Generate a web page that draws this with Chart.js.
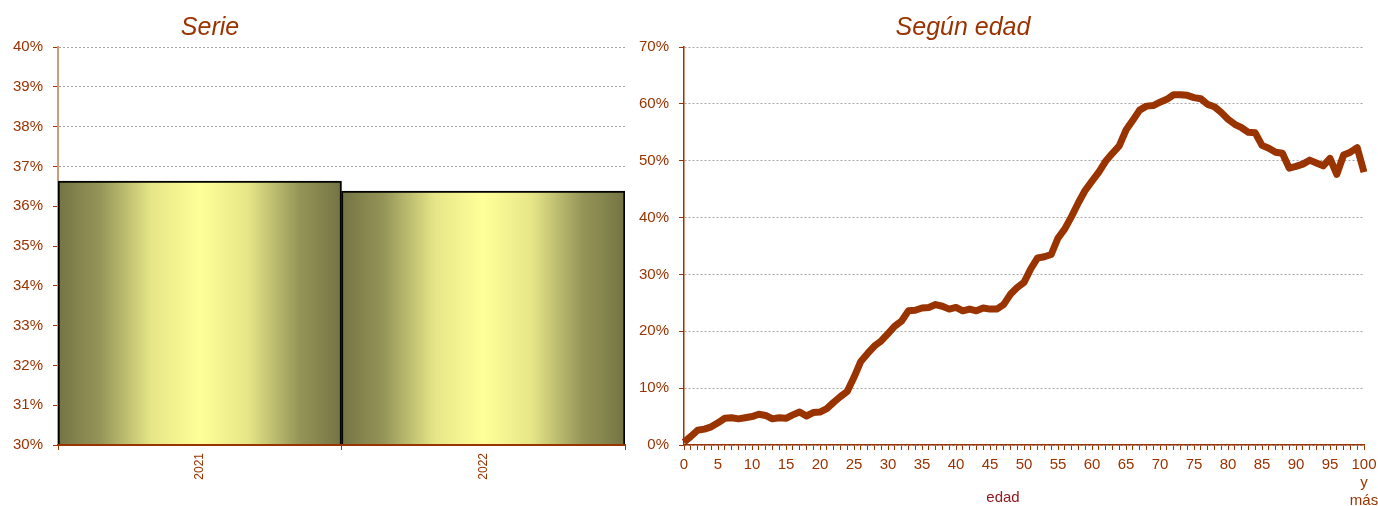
<!DOCTYPE html>
<html lang="es">
<head>
  <meta charset="UTF-8" />
  <title>Serie y según edad</title>
  <script src="https://cdn.jsdelivr.net/npm/chart.js"></script>
  <style>
    body {
      margin: 0;
      background: #fff;
      width: 1378px;
      height: 506px;
      overflow: hidden;
      position: relative;
    }
    canvas {
      position: absolute;
      top: 0;
    }
    #serieChart { left: 0; }
    #edadChart { left: 632px; }
  </style>
</head>
<body>

  <canvas id="serieChart" width="632" height="506"></canvas>
  <canvas id="edadChart" width="746" height="506"></canvas>

  <script>
    // ---- data ----
    const serieYears = ["2021", "2022"];
    const serieValues = [36.63, 36.38];
    const serieTicks = [30, 31, 32, 33, 34, 35, 36, 37, 38, 39, 40];

    const ages = [
      "0", "1", "2", "3", "4", "5", "6", "7", "8", "9",
      "10", "11", "12", "13", "14", "15", "16", "17", "18", "19",
      "20", "21", "22", "23", "24", "25", "26", "27", "28", "29",
      "30", "31", "32", "33", "34", "35", "36", "37", "38", "39",
      "40", "41", "42", "43", "44", "45", "46", "47", "48", "49",
      "50", "51", "52", "53", "54", "55", "56", "57", "58", "59",
      "60", "61", "62", "63", "64", "65", "66", "67", "68", "69",
      "70", "71", "72", "73", "74", "75", "76", "77", "78", "79",
      "80", "81", "82", "83", "84", "85", "86", "87", "88", "89",
      "90", "91", "92", "93", "94", "95", "96", "97", "98", "99",
      "100"
    ];
    const ageValues = [
      0.5, 1.5, 2.6, 2.8, 3.2, 3.9, 4.7, 4.8, 4.6, 4.8,
      5.0, 5.4, 5.2, 4.6, 4.8, 4.7, 5.3, 5.8, 5.1, 5.7,
      5.8, 6.4, 7.5, 8.5, 9.4, 11.9, 14.7, 16.1, 17.4, 18.3,
      19.6, 20.9, 21.8, 23.6, 23.7, 24.1, 24.2, 24.7, 24.4, 23.9,
      24.2, 23.6, 23.9, 23.6, 24.1, 23.9, 23.9, 24.7, 26.5, 27.7,
      28.6, 31.0, 32.9, 33.1, 33.5, 36.4, 38.0, 40.2, 42.6, 44.8,
      46.4, 48.0, 49.9, 51.3, 52.6, 55.4, 57.1, 58.9, 59.6, 59.7,
      60.3, 60.8, 61.6, 61.6, 61.5, 61.1, 60.9, 59.9, 59.5, 58.5,
      57.3, 56.4, 55.8, 55.0, 54.9, 52.7, 52.2, 51.5, 51.3, 48.7,
      49.0, 49.4, 50.1, 49.6, 49.1, 50.4, 47.6, 51.0, 51.5, 52.3,
      48.0
    ];
    const lastAgeLabel = ["100", "y", "más"];

    // ---- look ----
    const brown = "#993300";
    const fontFamily = '"Liberation Sans", Arial, sans-serif';
    Chart.defaults.font.family = fontFamily;
    Chart.defaults.color = brown;

    // draws the italic titles (and the axis caption) where Excel had them
    const textPlugin = {
      id: "freeText",
      afterDraw(chart, args, opts) {
        const ctx = chart.ctx;
        ctx.save();
        (opts.items || []).forEach(t => {
          ctx.font = t.font;
          ctx.fillStyle = t.color;
          ctx.textAlign = "center";
          ctx.textBaseline = t.baseline || "alphabetic";
          ctx.fillText(t.text, t.x, t.y);
        });
        ctx.restore();
      }
    };

    function barGradient(context) {
      const chart = context.chart;
      const xs = chart.scales && chart.scales.x;
      if (!chart.chartArea || !xs) return "#ffff99";
      const c = xs.getPixelForValue(context.dataIndex);
      const half = (chart.chartArea.right - chart.chartArea.left) / serieYears.length / 2;
      const g = chart.ctx.createLinearGradient(c - half, 0, c + half, 0);
      g.addColorStop(0, "#747444");
      g.addColorStop(0.15, "#959558");
      g.addColorStop(0.33, "#e6e688");
      g.addColorStop(0.5, "#ffff99");
      g.addColorStop(0.67, "#e6e688");
      g.addColorStop(0.85, "#959558");
      g.addColorStop(1, "#747444");
      return g;
    }

    new Chart(document.getElementById("serieChart"), {
      type: "bar",
      data: {
        labels: serieYears,
        datasets: [{
          data: serieValues,
          backgroundColor: barGradient,
          borderColor: "#000",
          borderWidth: 2,
          borderSkipped: false,
          barPercentage: 1,
          categoryPercentage: 1
        }]
      },
      options: {
        responsive: false,
        animation: false,
        devicePixelRatio: 1,
        layout: { padding: { top: 47, right: 7, left: 0, bottom: 0 } },
        plugins: {
          legend: { display: false },
          tooltip: { enabled: false },
          freeText: {
            items: [{ text: "Serie", x: 210, y: 35, font: "italic 25px " + fontFamily, color: brown }]
          }
        },
        scales: {
          x: {
            afterFit: s => { s.height = 61; },
            grid: { drawOnChartArea: false, tickLength: 5, tickColor: brown, offset: true },
            border: { color: brown, width: 2, z: 1 },
            ticks: { font: { size: 12 }, minRotation: 90, maxRotation: 90, padding: 3, color: brown }
          },
          y: {
            min: serieTicks[0],
            max: serieTicks[serieTicks.length - 1],
            afterFit: s => { s.width = 58; },
            afterBuildTicks: s => { s.ticks = serieTicks.map(v => ({ value: v })); },
            grid: { color: "#a6a6a6", lineWidth: 1, tickLength: 5, tickColor: brown, tickBorderDash: [] },
            border: { color: "#d09a80", width: 2, dash: [2, 2] },
            ticks: { font: { size: 15 }, padding: 10, color: brown, callback: v => v + "%" }
          }
        }
      },
      plugins: [textPlugin]
    });

    new Chart(document.getElementById("edadChart"), {
      type: "line",
      data: {
        labels: ages,
        datasets: [{
          data: ageValues,
          borderColor: brown,
          borderWidth: 7,
          borderJoinStyle: "round",
          pointRadius: 0,
          tension: 0,
          fill: false
        }]
      },
      options: {
        responsive: false,
        animation: false,
        devicePixelRatio: 1,
        layout: { padding: { top: 47, right: 14, left: 0, bottom: 0 } },
        plugins: {
          legend: { display: false },
          tooltip: { enabled: false },
          freeText: {
            items: [
              { text: "Según edad", x: 331, y: 35, font: "italic 25px " + fontFamily, color: brown },
              { text: "edad", x: 371, y: 498, font: "15px " + fontFamily, color: "#8e1a22", baseline: "middle" }
            ]
          }
        },
        scales: {
          x: {
            offset: false,
            afterFit: s => { s.height = 61; s.paddingLeft = 0; s.paddingRight = 0; },
            grid: { drawOnChartArea: false, tickLength: 5, tickColor: brown, offset: false },
            border: { color: brown, width: 1.5 },
            ticks: {
              autoSkip: false,
              maxRotation: 0,
              minRotation: 0,
              padding: 6,
              font: { size: 15 },
              color: brown,
              callback: (v, i) => {
                if (i === ages.length - 1) return lastAgeLabel;
                return i % 5 === 0 ? ages[i] : "";
              }
            }
          },
          y: {
            min: 0,
            max: 70,
            afterFit: s => { s.width = 52; },
            grid: { color: "#a6a6a6", lineWidth: 1, tickLength: 5, tickColor: brown, tickBorderDash: [] },
            border: { color: brown, width: 1.5, dash: [2, 2] },
            ticks: { stepSize: 10, font: { size: 15 }, padding: 10, color: brown, callback: v => v + "%" }
          }
        }
      },
      plugins: [textPlugin]
    });
  </script>

</body>
</html>
